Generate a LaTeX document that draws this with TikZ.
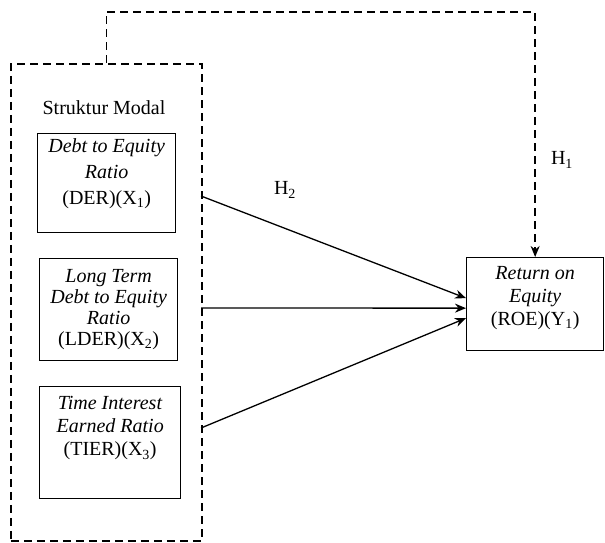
\documentclass[tikz,border=0pt]{standalone}
\usepackage{fontspec}
\setmainfont{Liberation Serif}
\usetikzlibrary{arrows.meta,positioning,calc}

\newcommand{\vartext}[4]{\parbox[c][#1][t]{#2}{\centering\vspace*{#3}#4}}

\begin{document}
\begin{tikzpicture}[
  x=1pt,y=-1pt,
  font=\fontsize{20}{23}\selectfont,
  var/.style={draw,line width=1.3pt,rectangle,anchor=north west,inner sep=0pt},
  frame/.style={draw,line width=1.6pt,dash pattern=on 8pt off 5pt},
  link/.style={->,line width=1.3pt},
  >={Stealth[length=11pt,width=9pt]}
]
\useasboundingbox (0,0) rectangle (605,543);
% kelompok struktur modal
\node[frame,minimum width=191pt,minimum height=477pt,anchor=north west] (sm) at (10,63) {};
\node (title) at (104,108) {Struktur Modal};
\node[var] (der) at (37,133)
  {\fontsize{20}{26}\selectfont\vartext{99pt}{138pt}{5pt}{\textit{Debt to Equity}\\ \textit{Ratio}\\ (DER)(X\textsubscript{1})}};
\node[var] (lder) at (39,258)
  {\fontsize{20}{21}\selectfont\vartext{102pt}{138pt}{11pt}{\textit{Long Term}\\ \textit{Debt to Equity}\\ \textit{Ratio}\\ (LDER)(X\textsubscript{2})}};
\node[var] (tier) at (39,386)
  {\vartext{112pt}{141pt}{10pt}{\textit{Time Interest}\\ \textit{Earned Ratio}\\ (TIER)(X\textsubscript{3})}};
% variabel dependen
\node[var] (roe) at (466,257)
  {\vartext{93pt}{137pt}{9pt}{\textit{Return on}\\ \textit{Equity}\\ (ROE)(Y\textsubscript{1})}};
% hubungan
\coordinate (s1) at (201,196);
\coordinate (s2) at (201,308);
\coordinate (s3) at (201,428);
\coordinate (top) at (300,12);
\draw[link] (s1) -- ([yshift=6pt]roe.west);
\draw[link] (s2) -- ([yshift=-4pt]roe.west);
\draw[link] (s3) -- ([yshift=-14pt]roe.west);
\draw[link,line width=1.6pt,dash pattern=on 8pt off 5pt] (sm.north) |- (top) -| (roe.north);
\node (h2) at (285,190) {H\textsubscript{2}};
\node (h1) at (562,160) {H\textsubscript{1}};
\end{tikzpicture}
\end{document}
